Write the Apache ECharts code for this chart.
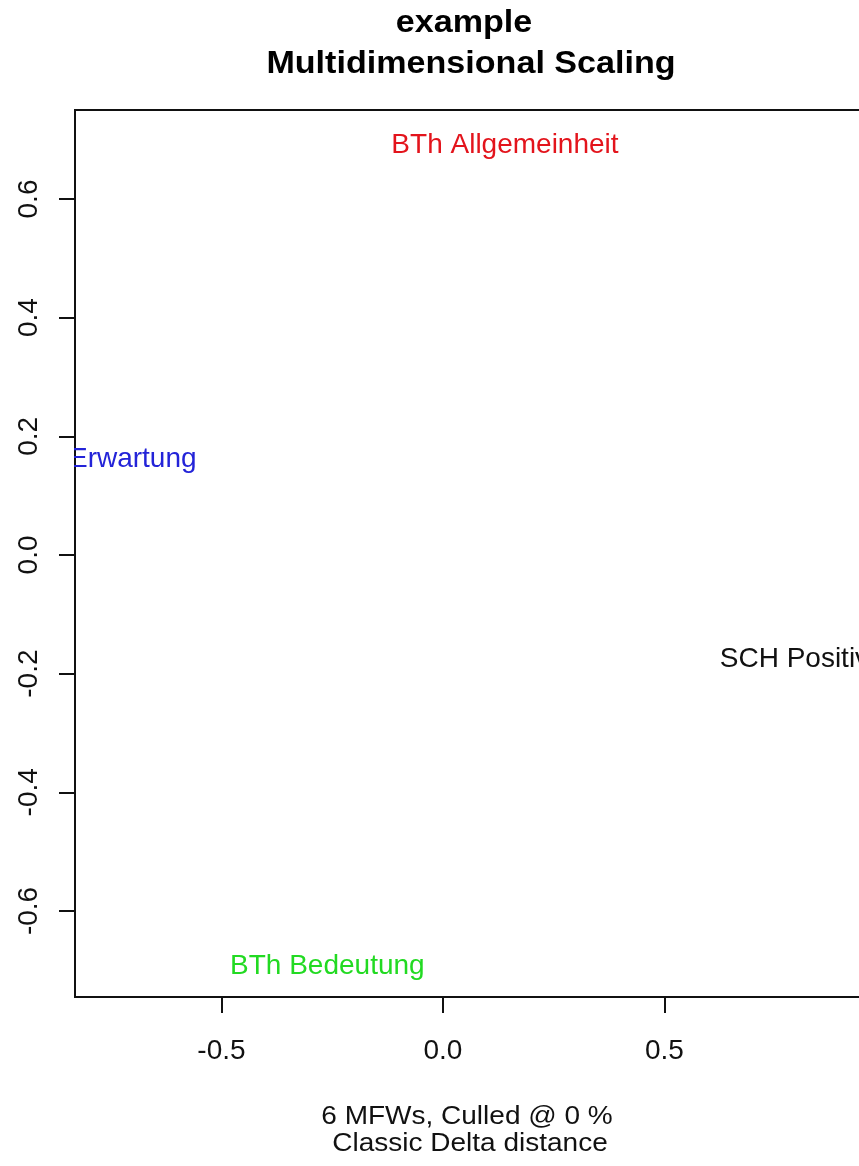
<!DOCTYPE html>
<html>
<head>
<meta charset="utf-8">
<script src="https://cdn.jsdelivr.net/npm/echarts@6/dist/echarts.min.js"></script>
<style>
html,body{margin:0;padding:0;background:#fff;}
#chart{width:859px;height:1166px;}
</style>
</head>
<body>
<div id="chart"></div>
<script>
// ---- data ----
var labels = ["BTh Allgemeinheit", "BTh Erwartung", "SCH Positivismus", "BTh Bedeutung"];
var xValues = [0.140, -0.767, 0.876, -0.261];
var yValues = [0.690, 0.162, -0.176, -0.694];
var labelColors = ["#e3141c", "#2323d8", "#111111", "#22da22"];
var xTicks = [-0.5, 0.0, 0.5];
var yTicks = [-0.6, -0.4, -0.2, 0.0, 0.2, 0.4, 0.6];
var titleLines = ["example", "Multidimensional Scaling"];
var xNameLines = ["6 MFWs, Culled @ 0 %", "Classic Delta distance"];
var xRange = [-0.8307, 0.946];
var yRange = [-0.745, 0.750];

var FONT = '"Liberation Sans", Arial, sans-serif';
var chart = echarts.init(document.getElementById('chart'), null, {renderer: 'canvas'});

var data = labels.map(function (name, i) {
  return {
    name: name,
    value: [xValues[i], yValues[i]],
    label: {color: labelColors[i]}
  };
});

function fmt(v) { return Number(v).toFixed(1); }

var option = {
  backgroundColor: '#ffffff',
  animation: false,
  grid: {
    left: 75, top: 110, width: 787, height: 887,
    outerBoundsMode: 'none', containLabel: false,
    show: true, borderColor: '#111', borderWidth: 2, backgroundColor: 'transparent'
  },
  xAxis: {
    type: 'value', min: xRange[0], max: xRange[1],
    axisLine: {show: false, onZero: false},
    splitLine: {show: false},
    axisTick: {show: true, inside: false, length: 16, customValues: xTicks,
      lineStyle: {color: '#111', width: 2}},
    axisLabel: {show: true, customValues: xTicks, formatter: fmt, margin: 40,
      fontFamily: FONT, fontSize: 28, color: '#111'}
  },
  yAxis: {
    type: 'value', min: yRange[0], max: yRange[1], z: 10,
    axisLine: {show: false, onZero: false},
    splitLine: {show: false},
    axisTick: {show: true, inside: false, length: 16, customValues: yTicks,
      lineStyle: {color: '#111', width: 2}},
    axisLabel: {show: true, customValues: yTicks, formatter: fmt, margin: 32, rotate: 90,
      fontFamily: FONT, fontSize: 28, color: '#111'}
  },
  series: [{
    type: 'scatter',
    clip: false,
    symbolSize: 1,
    itemStyle: {color: 'rgba(255,255,255,0)'},
    label: {show: true, position: 'inside', formatter: '{b}',
      textBorderWidth: 0, textBorderColor: 'transparent', opacity: 1,
      fontFamily: FONT, fontSize: 28, align: 'center', verticalAlign: 'middle'},
    emphasis: {disabled: true},
    data: data
  }],
  graphic: [
    {type: 'rect', z: 5, shape: {x: 0, y: 100, width: 74, height: 905},
      style: {fill: '#ffffff'}, silent: true},
    {type: 'text', z: 20, x: 464, y: 23, scaleX: 1.1,
      style: {text: titleLines[0], font: 'bold 31px ' + FONT, fill: '#000',
        align: 'center', verticalAlign: 'middle'}},
    {type: 'text', z: 20, x: 471, y: 64, scaleX: 1.1,
      style: {text: titleLines[1], font: 'bold 31px ' + FONT, fill: '#000',
        align: 'center', verticalAlign: 'middle'}},
    {type: 'text', z: 20, x: 467, y: 1117, scaleX: 1.12,
      style: {text: xNameLines[0], font: '25px ' + FONT, fill: '#111',
        align: 'center', verticalAlign: 'middle'}},
    {type: 'text', z: 20, x: 470, y: 1144, scaleX: 1.12,
      style: {text: xNameLines[1], font: '25px ' + FONT, fill: '#111',
        align: 'center', verticalAlign: 'middle'}}
  ]
};
chart.setOption(option);
</script>
</body>
</html>
